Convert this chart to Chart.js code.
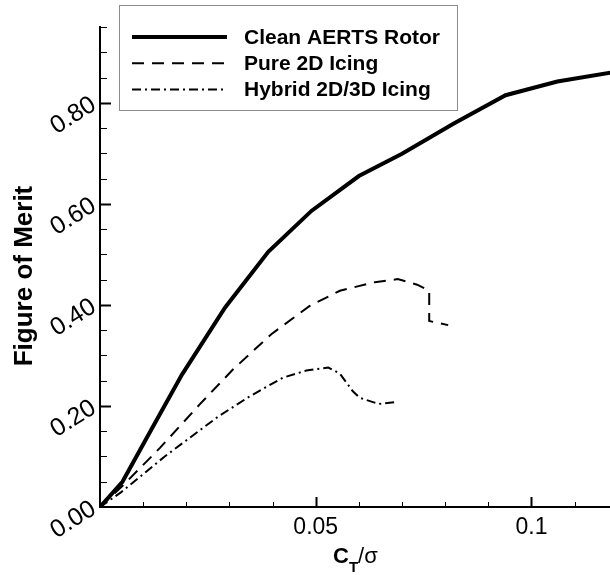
<!DOCTYPE html>
<html lang="en">
<head>
<meta charset="UTF-8">
<title>Figure of Merit vs CT/sigma</title>
<style>
  body { margin: 0; background: #fff; }
  #wrap { width: 610px; height: 575px; }
</style>
<script src="https://cdn.jsdelivr.net/npm/chart.js"></script>
</head>
<body>
<div id="wrap"><canvas id="fmChart" width="610" height="575"></canvas></div>
<script>
  // values
  const cleanX = [0, 0.0052, 0.012, 0.019, 0.029, 0.039, 0.049, 0.06, 0.07, 0.082, 0.094, 0.106, 0.12];
  const cleanY = [0, 0.05, 0.155, 0.262, 0.395, 0.505, 0.586, 0.655, 0.699, 0.759, 0.815, 0.842, 0.862];

  const pureX = [0, 0.005, 0.0139, 0.0231, 0.0308, 0.0397, 0.0486, 0.0556, 0.0637, 0.069, 0.0735, 0.0763, 0.0763, 0.0807];
  const pureY = [0, 0.04, 0.117, 0.203, 0.272, 0.342, 0.398, 0.428, 0.445, 0.451, 0.44, 0.428, 0.368, 0.36];

  const hybridX = [0, 0.005, 0.015, 0.0274, 0.0347, 0.0424, 0.0478, 0.0529, 0.0556, 0.0586, 0.0602, 0.0646, 0.0687];
  const hybridY = [0, 0.03, 0.1, 0.179, 0.219, 0.256, 0.27, 0.276, 0.264, 0.229, 0.216, 0.204, 0.208];

  const seriesLabels = ['Clean AERTS Rotor', 'Pure 2D Icing', 'Hybrid 2D/3D Icing'];
  const xTickLabels = ['0.05', '0.1'];
  const yTickLabels = ['0.00', '0.20', '0.40', '0.60', '0.80'];

  const FONT = "'Liberation Sans', Arial, Helvetica, sans-serif";

  function toPoints(xs, ys) {
    return xs.map((x, i) => ({ x: x, y: ys[i] }));
  }

  // inward tick marks, long on labelled ticks
  const tickMarks = {
    id: 'tickMarks',
    afterDraw(chart) {
      const ctx = chart.ctx;
      const xs = chart.scales.x, ys = chart.scales.y;
      const a = chart.chartArea;
      ctx.save();
      ctx.strokeStyle = '#000';
      xs.ticks.forEach(t => {
        if (t.value <= 0) return;
        const major = t.label !== '';
        const px = Math.round(xs.getPixelForValue(t.value)) + 0.5;
        ctx.lineWidth = major ? 2 : 1;
        ctx.beginPath();
        ctx.moveTo(px, a.bottom);
        ctx.lineTo(px, a.bottom - (major ? 10 : 5));
        ctx.stroke();
      });
      ys.ticks.forEach(t => {
        if (t.value <= 0) return;
        const major = t.label !== '';
        const py = Math.round(ys.getPixelForValue(t.value)) + 0.5;
        ctx.lineWidth = major ? 2 : 1;
        ctx.beginPath();
        ctx.moveTo(a.left, py);
        ctx.lineTo(a.left + (major ? 11 : 7), py);
        ctx.stroke();
      });
      ctx.restore();
    }
  };

  // axis titles (x title needs a subscript)
  const axisTitles = {
    id: 'axisTitles',
    afterDraw(chart) {
      const ctx = chart.ctx;
      ctx.save();
      ctx.fillStyle = '#000';
      // y title
      ctx.translate(25, 276);
      ctx.rotate(-Math.PI / 2);
      ctx.font = 'bold 26px ' + FONT;
      ctx.textAlign = 'center';
      ctx.textBaseline = 'middle';
      ctx.fillText('Figure of Merit', 0, 0);
      ctx.setTransform(1, 0, 0, 1, 0, 0);
      // x title  C_T / sigma
      ctx.textAlign = 'left';
      ctx.textBaseline = 'alphabetic';
      let x = 333;
      ctx.font = 'bold 22px ' + FONT;
      ctx.fillText('C', x, 563);
      x += ctx.measureText('C').width;
      ctx.font = 'bold 15px ' + FONT;
      ctx.fillText('T', x, 572);
      x += ctx.measureText('T').width;
      ctx.font = '22px ' + FONT;
      ctx.fillText('/\u03c3', x, 563);
      ctx.restore();
    }
  };

  // framed legend in the upper left
  const legendBox = {
    id: 'legendBox',
    afterDraw(chart) {
      const ctx = chart.ctx;
      ctx.save();
      ctx.fillStyle = '#fff';
      ctx.fillRect(119.5, 5.5, 338, 105);
      ctx.strokeStyle = '#8c8c8c';
      ctx.lineWidth = 1;
      ctx.strokeRect(119.5, 5.5, 338, 105);
      chart.data.datasets.forEach((ds, i) => {
        const y = 37 + i * 26.3;
        ctx.strokeStyle = '#000';
        ctx.lineWidth = ds.borderWidth;
        ctx.setLineDash(ds.borderDash || []);
        ctx.beginPath();
        ctx.moveTo(132, y);
        ctx.lineTo(227, y);
        ctx.stroke();
        ctx.setLineDash([]);
        ctx.font = 'bold 21px ' + FONT;
        ctx.fillStyle = '#000';
        ctx.textBaseline = 'middle';
        ctx.fillText(ds.label, 244, y + 1);
      });
      ctx.restore();
    }
  };

  Chart.defaults.font.family = FONT;
  Chart.defaults.color = '#000';

  const ctx = document.getElementById('fmChart').getContext('2d');
  const fmChart = new Chart(ctx, {
    type: 'line',
    data: {
      datasets: [{
        label: seriesLabels[0],
        data: toPoints(cleanX, cleanY),
        borderColor: '#000',
        borderWidth: 4,
        pointRadius: 0,
        fill: false
      }, {
        label: seriesLabels[1],
        data: toPoints(pureX, pureY),
        borderColor: '#000',
        borderWidth: 2,
        borderDash: [12, 8],
        pointRadius: 0,
        fill: false
      }, {
        label: seriesLabels[2],
        data: toPoints(hybridX, hybridY),
        borderColor: '#000',
        borderWidth: 2,
        borderDash: [9, 4, 2, 4],
        pointRadius: 0,
        fill: false
      }]
    },
    options: {
      responsive: false,
      animation: false,
      layout: { padding: { top: 27, right: 0, left: 0, bottom: 0 } },
      plugins: {
        legend: { display: false },
        tooltip: { enabled: false }
      },
      scales: {
        x: {
          type: 'linear',
          min: 0,
          max: 0.1182,
          grid: { drawOnChartArea: false, drawTicks: false },
          border: { color: '#000', width: 2 },
          ticks: {
            stepSize: 0.01,
            includeBounds: false,
            autoSkip: false,
            maxRotation: 0,
            padding: 7,
            font: { size: 23 },
            callback: function (v) {
              const s = String(Number(v.toFixed(2)));
              return xTickLabels.includes(s) ? s : '';
            }
          },
          afterFit: function (s) { s.height = 68; }
        },
        y: {
          type: 'linear',
          min: 0,
          max: 0.95,
          grid: { drawOnChartArea: false, drawTicks: false },
          border: { color: '#000', width: 2 },
          ticks: {
            stepSize: 0.05,
            includeBounds: false,
            autoSkip: false,
            minRotation: 32,
            maxRotation: 32,
            padding: 6,
            font: { size: 25 },
            callback: function (v) {
              const s = v.toFixed(2);
              return yTickLabels.includes(s) ? s : '';
            }
          },
          afterFit: function (s) { s.width = 100; }
        }
      }
    },
    plugins: [tickMarks, axisTitles, legendBox]
  });
</script>
</body>
</html>
